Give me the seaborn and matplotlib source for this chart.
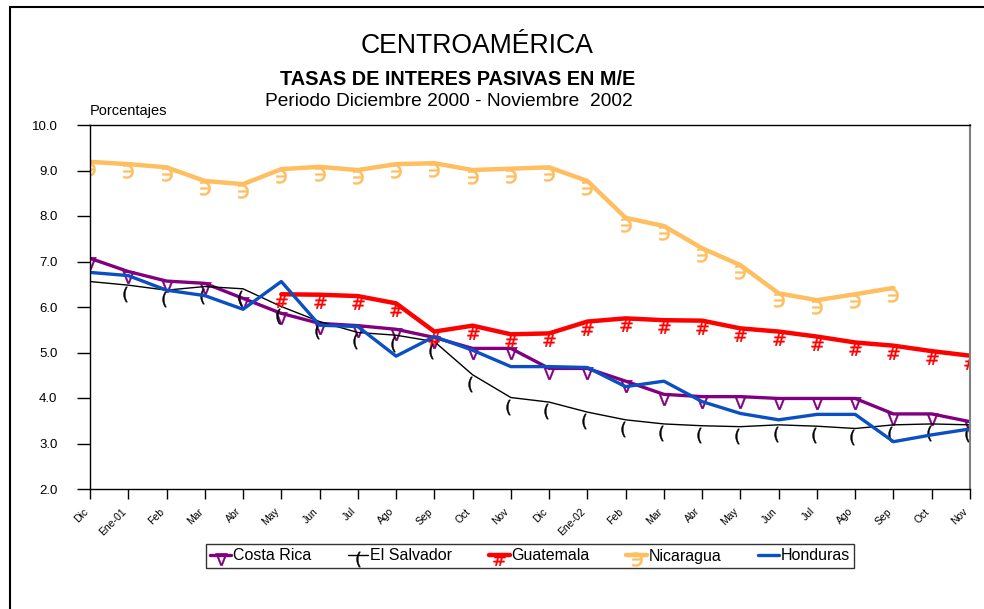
import numpy as np
import pandas as pd
import matplotlib
matplotlib.use('Agg')
import matplotlib.pyplot as plt
import matplotlib.transforms as mtransforms
from matplotlib.lines import Line2D
from matplotlib.patches import Rectangle
from matplotlib.legend_handler import HandlerLine2DCompound
import seaborn as sns

meses = ['Dic', 'Ene-01', 'Feb', 'Mar', 'Abr', 'May', 'Jun', 'Jul', 'Ago', 'Sep', 'Oct', 'Nov',
         'Dic', 'Ene-02', 'Feb', 'Mar', 'Abr', 'May', 'Jun', 'Jul', 'Ago', 'Sep', 'Oct', 'Nov']
nan = np.nan
costa_rica = [7.07, 6.78, 6.57, 6.52, 6.19, 5.86, 5.64, 5.59, 5.51, 5.33, 5.09, 5.09,
              4.65, 4.65, 4.37, 4.08, 4.03, 4.03, 3.99, 3.99, 3.99, 3.65, 3.65, 3.48]
el_salvador = [6.56, 6.48, 6.37, 6.45, 6.40, 6.01, 5.68, 5.44, 5.38, 5.24, 4.51, 4.01,
               3.91, 3.69, 3.52, 3.43, 3.39, 3.37, 3.41, 3.38, 3.33, 3.41, 3.43, 3.41]
guatemala = [nan, nan, nan, nan, nan, 6.28, 6.27, 6.24, 6.08, 5.46, 5.59, 5.40,
             5.42, 5.68, 5.75, 5.71, 5.70, 5.53, 5.46, 5.35, 5.22, 5.15, 5.03, 4.93]
nicaragua = [9.19, 9.14, 9.07, 8.77, 8.70, 9.03, 9.08, 9.01, 9.14, 9.16, 9.01, 9.04,
             9.07, 8.77, 7.96, 7.78, 7.29, 6.92, 6.30, 6.15, 6.28, 6.42, nan, nan]
honduras = [6.76, 6.69, 6.37, 6.25, 5.95, 6.56, 5.60, 5.57, 4.92, 5.35, 5.05, 4.69,
            4.69, 4.67, 4.25, 4.37, 3.92, 3.66, 3.52, 3.64, 3.64, 3.04, 3.19, 3.32]

sns.set_style('white')
plt.rcParams['font.family'] = ['Liberation Sans', 'DejaVu Sans']
plt.rcParams.update({'text.color': 'black', 'xtick.color': 'black', 'ytick.color': 'black',
                     'axes.labelcolor': 'black'})

df = pd.DataFrame({'mes': range(len(meses)), 'Costa Rica': costa_rica, 'El Salvador': el_salvador,
                   'Guatemala': guatemala, 'Nicaragua': nicaragua, 'Honduras': honduras})

# nombre, color, grosor, marcador, tamaño, desplazamiento (px)
series = [
    ('Costa Rica', '#800080', 2.4, r'$\nabla$', 9, (0, -5)),
    ('El Salvador', '#000000', 1.0, r'$($', 11, (-3, -9)),
    ('Guatemala', '#FF0000', 3.2, r'$\#$', 9, (0, -7)),
    ('Nicaragua', '#FFBE5F', 3.2, r'$϶$', 10, (0, -7)),
    ('Honduras', '#0A4FC4', 2.4, 'None', 0, (0, 0)),
]


class MarcaAbajo(HandlerLine2DCompound):
    # el marcador de la leyenda va debajo de la linea, como en Excel
    def create_artists(self, legend, orig_handle, xdescent, ydescent, width, height, fontsize, trans):
        arts = super().create_artists(legend, orig_handle, xdescent, ydescent, width, height,
                                      fontsize, trans)
        for a in arts[1:]:
            a.set_ydata([y - 0.4 * height for y in a.get_ydata()])
        return arts


fig = plt.figure(figsize=(9.84, 6.09), dpi=100)
ax = fig.add_axes([90 / 984, 120 / 609, 880 / 984, 364 / 609])

handles = []
for nombre, color, lw, mk, ms, off in series:
    sns.lineplot(data=df, x='mes', y=nombre, ax=ax, color=color, linewidth=lw)
    if mk != 'None':
        tr = ax.transData + mtransforms.ScaledTranslation(off[0] / 100, off[1] / 100, fig.dpi_scale_trans)
        ax.plot(df['mes'], df[nombre], ls='none', marker=mk, markersize=ms, color=color,
                markeredgewidth=0.3, transform=tr)
    handles.append(Line2D([], [], color=color, linewidth=lw, marker=mk, markersize=ms,
                          markeredgewidth=0.3))

ax.set_xlim(0, 23)
ax.set_ylim(2, 10)
ax.set_yticks(np.arange(2, 10.1, 1))
ax.set_yticklabels([f'{v:.1f}' for v in np.arange(2, 10.1, 1)], fontsize=9.5)
ax.set_xticks(range(len(meses)))
ax.set_xticklabels(meses, rotation=45, ha='right', fontsize=7.5)
ax.tick_params(axis='y', direction='out', length=9.5, width=1, pad=14, left=True)
ax.tick_params(axis='x', direction='out', length=7.5, width=1, pad=5, bottom=True)
ax.set_xlabel('')
ax.set_ylabel('')
for s in ['left', 'top', 'bottom']:
    ax.spines[s].set_color('black')
    ax.spines[s].set_linewidth(1)
ax.spines['right'].set_color('#808080')
ax.spines['right'].set_linewidth(1.5)

fig.text(477 / 984, 1 - 53 / 609, 'CENTROAMÉRICA', ha='center', va='baseline', fontsize=19.2)
fig.text(458 / 984, 1 - 85 / 609, 'TASAS DE INTERES PASIVAS EN M/E', ha='center', va='baseline',
         fontsize=14.3, fontweight='bold')
fig.text(449 / 984, 1 - 106 / 609, 'Periodo Diciembre 2000 - Noviembre  2002', ha='center',
         va='baseline', fontsize=13.8)
fig.text(90 / 984, 1 - 115 / 609, 'Porcentajes', ha='left', va='baseline', fontsize=10.5)

leg = fig.legend(handles, [s[0] for s in series], loc='center', bbox_to_anchor=(530 / 984, 1 - 556 / 609),
                 ncol=5, fontsize=11.5, frameon=True, fancybox=False, handlelength=1.3,
                 handletextpad=0.1, columnspacing=2.3, borderpad=0.3,
                 handler_map={Line2D: MarcaAbajo()})
leg._legend_handle_box.align = 'top'
leg.get_frame().set_edgecolor('black')
leg.get_frame().set_linewidth(1)

fig.patches.append(Rectangle((10 / 984, -0.1), 1.2, 1 - 7 / 609 + 0.1, transform=fig.transFigure,
                             fill=False, edgecolor='black', linewidth=1.5))

fig.savefig('out.png', dpi=100)
